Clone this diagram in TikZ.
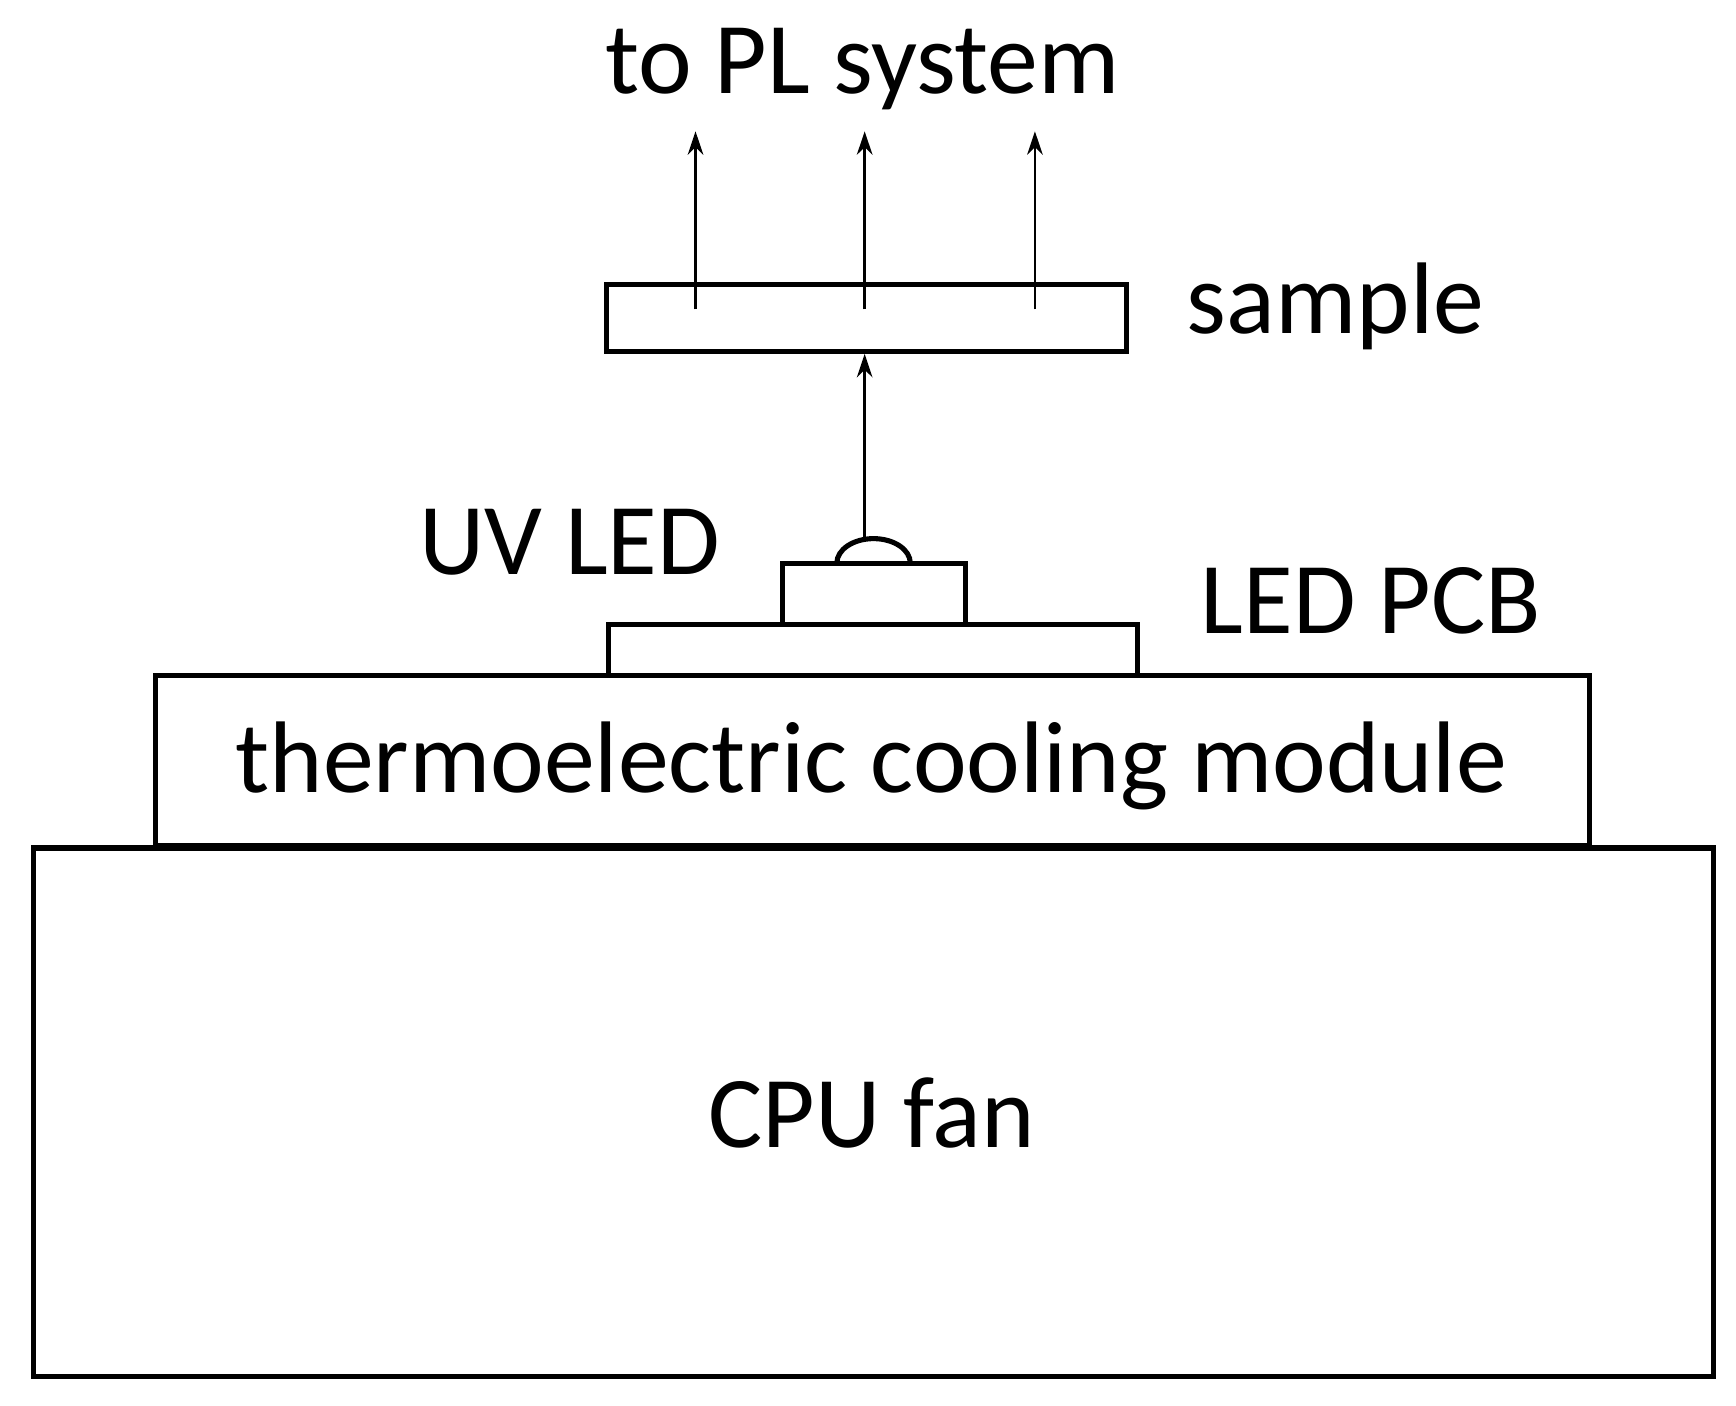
\documentclass[tikz,border=0pt]{standalone}
\usepackage{fontspec}
\setmainfont{Carlito}
\usetikzlibrary{arrows.meta}
\begin{document}
\begin{tikzpicture}[x=0.01cm,y=-0.01cm,
  box/.style={draw,line width=1.3pt,inner sep=0pt},
  lbl/.style={font=\fontsize{26}{30}\selectfont,inner sep=0pt},
  ray/.style={line width=0.6pt,-{Stealth[length=6pt,width=4pt]}}]
\useasboundingbox (0,0) rectangle (1560,1263);
\draw[box] (30,762) rectangle (1540,1237);
\node[lbl] (fan) at (783,1000) {CPU fan};
\draw[box] (140,607) rectangle (1428,760);
\node[lbl] (tec) at (783,688) {thermoelectric cooling module};
\draw[box] (547,561) rectangle (1022,607);
\node[lbl] (pcbl) at (1232,540) {LED PCB};
\draw[box] (703,506) rectangle (868,561);
\draw[line width=1.3pt] (752,506) arc[start angle=180,end angle=0,x radius=33,y radius=-22];
\node[lbl] (uvl) at (512,487) {UV LED};
\coordinate (dome) at (777,484);
\draw[box] (545,256) rectangle (1012,316);
\node[lbl] (sl) at (1200,275) {sample};
\coordinate (sb) at (777,318);
\draw[ray] (dome) -- (sb);
\foreach \x/\n in {625/a,777/b,930/c}{
  \coordinate (s\n) at (\x,278);
  \coordinate (t\n) at (\x,118);
  \draw[ray] (s\n) -- (t\n);
}
\node[lbl] (pl) at (775,62) {to PL system};
\end{tikzpicture}
\end{document}
